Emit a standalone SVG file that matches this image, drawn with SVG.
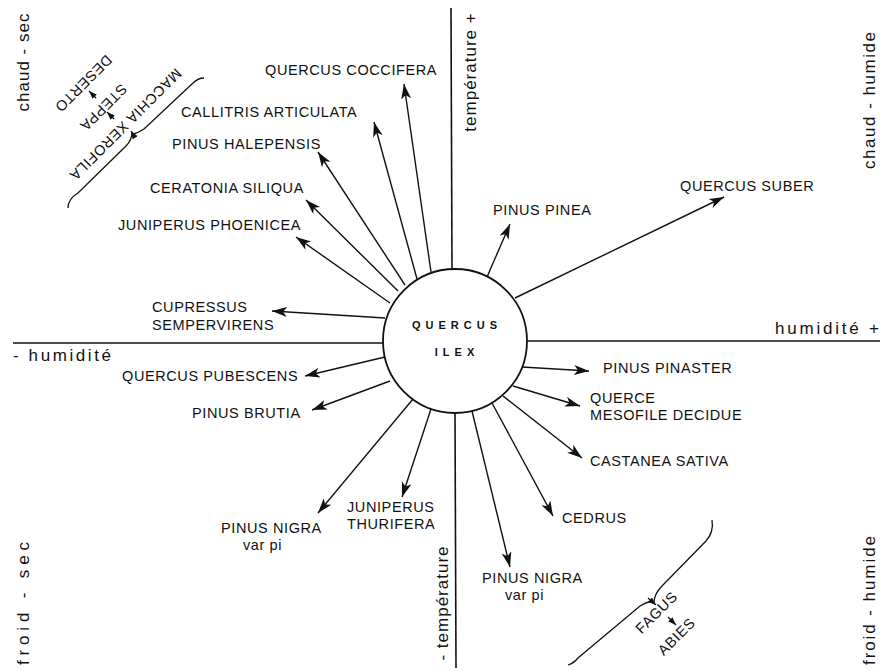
<svg xmlns="http://www.w3.org/2000/svg" width="890" height="671" viewBox="0 0 890 671">
<style>
.lbl{font-family:"Liberation Sans",Arial,sans-serif;font-size:14.5px;letter-spacing:0.6px;fill:#111}
.ax{font-family:"Liberation Sans",Arial,sans-serif;font-size:17px;letter-spacing:1px;fill:#111}
.ilex{font-family:"Liberation Sans",Arial,sans-serif;font-size:11px;font-weight:bold;letter-spacing:5px;fill:#111}
.ln{stroke:#111;stroke-width:1.6;fill:none}
.arr{stroke:#111;stroke-width:1.4;fill:none;marker-end:url(#ah)}
.br{stroke:#111;stroke-width:1.3;fill:none}
</style>
<defs>
<marker id="ah" markerUnits="userSpaceOnUse" markerWidth="16" markerHeight="12" refX="15" refY="5" orient="auto">
<path d="M0,0 L15,5 L0,10 L4,5 z" fill="#111"/>
</marker>
<marker id="sm" markerUnits="userSpaceOnUse" markerWidth="10" markerHeight="8" refX="8" refY="3" orient="auto">
<path d="M0,0 L8,3 L0,6 z" fill="#111"/>
</marker>
</defs>
<rect width="890" height="671" fill="#fff"/>
<g id="axes">
<line class="ln" x1="451" y1="8" x2="452" y2="270"/>
<line class="ln" x1="455" y1="412" x2="456" y2="668"/>
<line class="ln" x1="13" y1="343" x2="384" y2="343"/>
<line class="ln" x1="526" y1="341" x2="880" y2="341"/>
<text class="ax" transform="translate(476,72) rotate(-90)" text-anchor="middle">température +</text>
<text class="ax" transform="translate(448,603) rotate(-90)" text-anchor="middle">- température</text>
<text class="ax" x="775" y="334" textLength="105">humidité +</text>
<text class="ax" x="13" y="361" textLength="99">- humidité</text>
<text class="ax" transform="translate(29,62) rotate(-90)" text-anchor="middle">chaud - sec</text>
<text class="ax" transform="translate(875,100) rotate(-90)" text-anchor="middle" textLength="138">chaud - humide</text>
<text class="ax" transform="translate(875,600) rotate(-90)" text-anchor="middle" textLength="130">froid - humide</text>
<text class="ax" transform="translate(29,603) rotate(-90)" text-anchor="middle" textLength="124">froid - sec</text>
</g>
<g id="center">
<circle cx="455" cy="341" r="72" fill="#fff" stroke="#111" stroke-width="1.8"/>
<text class="ilex" x="457" y="329" text-anchor="middle">QUERCUS</text>
<text class="ilex" x="457" y="356" text-anchor="middle">ILEX</text>
</g>
<g id="connectors">
<line class="arr" x1="431" y1="272" x2="404" y2="84"/>
<line class="arr" x1="417" y1="279" x2="374" y2="122"/>
<line class="arr" x1="405" y1="285" x2="318" y2="152"/>
<line class="arr" x1="398" y1="291" x2="306" y2="200"/>
<line class="arr" x1="390" y1="303" x2="296" y2="237"/>
<line class="arr" x1="385" y1="318" x2="272" y2="311"/>
<line class="arr" x1="385" y1="357" x2="305" y2="376"/>
<line class="arr" x1="390" y1="381" x2="312" y2="410"/>
<line class="arr" x1="413" y1="399" x2="318" y2="513"/>
<line class="arr" x1="431" y1="409" x2="402" y2="497"/>
<line class="arr" x1="472" y1="411" x2="510" y2="567"/>
<line class="arr" x1="492" y1="403" x2="553" y2="516"/>
<line class="arr" x1="503" y1="396" x2="582" y2="458"/>
<line class="arr" x1="513" y1="386" x2="580" y2="406"/>
<line class="arr" x1="522" y1="367" x2="589" y2="371"/>
<line class="arr" x1="487" y1="277" x2="510" y2="224"/>
<line class="arr" x1="515" y1="298" x2="724" y2="197"/>
<path class="br" d="M68,208 Q68,199 78,193 L126,146 Q132,140 132,132"/>
<path class="br" d="M133,134 Q138,133 144,129 L193,83 Q198,78 204,78"/>
<path class="br" d="M712,520 Q714,532 706,541 L662,586 Q654,594 654,603"/>
<path class="br" d="M653,601 Q646,602 640,606 L578,658 Q574,663 568,665"/>
<line class="br" x1="96" y1="98" x2="89" y2="91" marker-end="url(#sm)"/>
<line class="br" x1="114" y1="119" x2="107" y2="112" marker-end="url(#sm)"/>
<line class="br" x1="134" y1="136" x2="131" y2="131" marker-end="url(#sm)"/>
<line class="br" x1="668" y1="617" x2="676" y2="625" marker-end="url(#sm)"/>
<line class="br" x1="648" y1="598" x2="656" y2="605" marker-end="url(#sm)"/>
</g>
<g id="n-coccifera"><text class="lbl" x="265" y="75">QUERCUS COCCIFERA</text></g>
<g id="n-callitris"><text class="lbl" x="181" y="117">CALLITRIS ARTICULATA</text></g>
<g id="n-halepensis"><text class="lbl" x="172" y="149">PINUS HALEPENSIS</text></g>
<g id="n-ceratonia"><text class="lbl" x="150" y="193">CERATONIA SILIQUA</text></g>
<g id="n-phoenicea"><text class="lbl" x="118" y="230">JUNIPERUS PHOENICEA</text></g>
<g id="n-cupressus"><text class="lbl" x="152" y="312">CUPRESSUS</text><text class="lbl" x="152" y="330">SEMPERVIRENS</text></g>
<g id="n-pubescens"><text class="lbl" x="122" y="381">QUERCUS PUBESCENS</text></g>
<g id="n-brutia"><text class="lbl" x="192" y="418">PINUS BRUTIA</text></g>
<g id="n-nigra1"><text class="lbl" x="221" y="533">PINUS NIGRA</text><text class="lbl" x="243" y="550">var pi</text></g>
<g id="n-thurifera"><text class="lbl" x="347" y="512">JUNIPERUS</text><text class="lbl" x="347" y="529">THURIFERA</text></g>
<g id="n-nigra2"><text class="lbl" x="482" y="583">PINUS NIGRA</text><text class="lbl" x="505" y="600">var pi</text></g>
<g id="n-cedrus"><text class="lbl" x="562" y="523">CEDRUS</text></g>
<g id="n-castanea"><text class="lbl" x="590" y="466">CASTANEA SATIVA</text></g>
<g id="n-querce"><text class="lbl" x="590" y="403">QUERCE</text><text class="lbl" x="590" y="420">MESOFILE DECIDUE</text></g>
<g id="n-pinaster"><text class="lbl" x="603" y="373">PINUS PINASTER</text></g>
<g id="n-pinea"><text class="lbl" x="493" y="215">PINUS PINEA</text></g>
<g id="n-suber"><text class="lbl" x="680" y="191">QUERCUS SUBER</text></g>
<g id="n-deserto"><text class="lbl" transform="translate(80,80) rotate(135)" text-anchor="middle">DESERTO</text></g>
<g id="n-steppa"><text class="lbl" transform="translate(100,104) rotate(135)" text-anchor="middle">STEPPA</text></g>
<g id="n-macchia"><text class="lbl" transform="translate(122,121) rotate(135)" text-anchor="middle">MACCHIA XEROFILA</text></g>
<g id="n-fagus"><text class="lbl" transform="translate(660,616) rotate(-45)" text-anchor="middle">FAGUS</text></g>
<g id="n-abies"><text class="lbl" transform="translate(680,640) rotate(-45)" text-anchor="middle">ABIES</text></g>
</svg>
